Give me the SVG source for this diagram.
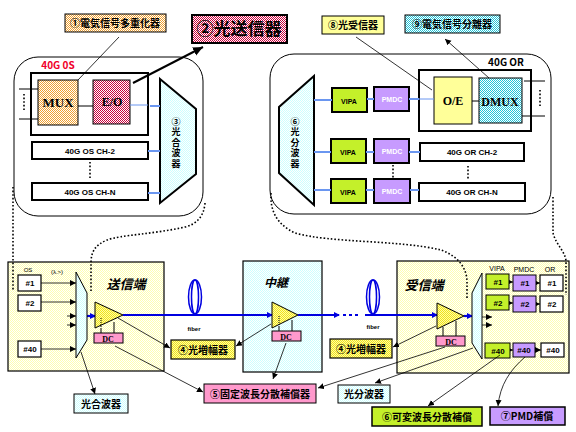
<svg xmlns="http://www.w3.org/2000/svg" width="576" height="432" viewBox="0 0 576 432">
<defs>
<pattern id="dO" width="2" height="2" patternUnits="userSpaceOnUse"><rect width="2" height="2" fill="#fff"/><rect width="1" height="1" fill="#f0a030"/><rect x="1" y="1" width="1" height="1" fill="#f0a030"/></pattern>
<pattern id="dR" width="2" height="2" patternUnits="userSpaceOnUse"><rect width="2" height="2" fill="#fff"/><rect width="1" height="1" fill="#c8003c"/><rect x="1" y="1" width="1" height="1" fill="#c8003c"/></pattern>
<pattern id="dC" width="2" height="2" patternUnits="userSpaceOnUse"><rect width="2" height="2" fill="#fff"/><rect width="1" height="1" fill="#ccffff"/><rect x="1" y="1" width="1" height="1" fill="#ccffff"/></pattern>
<pattern id="dT" width="2" height="2" patternUnits="userSpaceOnUse"><rect width="2" height="2" fill="#fff"/><rect width="1" height="1" fill="#22c4d8"/><rect x="1" y="1" width="1" height="1" fill="#22c4d8"/></pattern>
<pattern id="dY" width="2" height="2" patternUnits="userSpaceOnUse"><rect width="2" height="2" fill="#fff"/><rect width="1" height="1" fill="#ffffb0"/><rect x="1" y="1" width="1" height="1" fill="#ffffb0"/></pattern>
<pattern id="dS" width="2" height="2" patternUnits="userSpaceOnUse"><rect width="2" height="2" fill="#ffffa0"/><rect width="1" height="1" fill="#f0e020"/><rect x="1" y="1" width="1" height="1" fill="#f0e020"/></pattern>
<marker id="a" markerWidth="7" markerHeight="7" refX="6" refY="3" orient="auto" markerUnits="userSpaceOnUse"><path d="M0,0L6,3L0,6z" fill="#000"/></marker>
<marker id="ab" markerWidth="7" markerHeight="7" refX="5" refY="3" orient="auto" markerUnits="userSpaceOnUse"><path d="M0,0L6,3L0,6z" fill="#0000e0"/></marker>
<marker id="A" markerWidth="12" markerHeight="10" refX="10" refY="4.5" orient="auto" markerUnits="userSpaceOnUse"><path d="M0,0L10,4.5L0,9z" fill="#000"/></marker>
</defs>
<style>
text{font-family:"Noto Sans CJK JP","Liberation Sans",sans-serif;font-weight:700;text-anchor:middle;fill:#000}
.s{font-family:"Liberation Serif",serif}
.l{font-family:"Liberation Sans",sans-serif;font-size:8px}
.v{writing-mode:vertical-rl;font-size:9px;letter-spacing:1.5px}
.bx{stroke:#000;stroke-width:2;fill:#fff}
.th{stroke:#000;stroke-width:1;fill:none}
.ar{stroke:#000;stroke-width:.8;fill:none;marker-end:url(#a)}
.dot{stroke:#000;stroke-width:1.6;stroke-dasharray:1.6 2;fill:none}
.bl{stroke:#6a96f0;stroke-width:2;fill:none}
.bt{stroke:#6a96f0;stroke-width:1;fill:none}
.bb{stroke:#0000e0;stroke-width:2.2;fill:none}
.bm{marker-end:url(#ab)}
.pk{fill:#ff99cc;stroke:#000;stroke-width:1}
.g{fill:#c4f02a;stroke:#000;stroke-width:2}
.p{fill:#c79bff;stroke:#000;stroke-width:2}
.wb{fill:#fff;stroke:#000;stroke-width:1.2}
.lab{font-size:10px}
</style>

<g id="tx-station"><rect x="8" y="262" width="156" height="109" fill="url(#dY)" stroke="#000" stroke-width="1.2"/>
<text x="126" y="289" font-size="13" font-style="italic">送信端</text>
<text class="l" x="28" y="272" style="font-size:6px;font-weight:400">OS</text><text class="l" x="57" y="274" style="font-size:6px;font-weight:400">(λ.&gt;)</text></g>
<g id="relay-station"><rect x="243" y="261" width="79" height="111" fill="url(#dC)" stroke="#000" stroke-width="1.2"/>
<text x="276" y="287" font-size="12" font-style="italic">中継</text></g>
<g id="rx-station"><rect x="397" y="261" width="172" height="112" fill="url(#dY)" stroke="#000" stroke-width="1.2"/>
<text x="424" y="290" font-size="13" font-style="italic">受信端</text>
<text class="l" x="497" y="271" style="font-size:7px;font-weight:400">VIPA</text><text class="l" x="524" y="272" style="font-size:7px;font-weight:400">PMDC</text><text class="l" x="550" y="272" style="font-size:7px;font-weight:400">OR</text></g>

<g id="os-panel"><rect x="14" y="57" width="189" height="159" rx="24" fill="#fff" stroke="#000"/>
<text x="58" y="69" font-size="10" style="fill:#f0002a">40G 0S</text>
<rect class="bx" x="31" y="73" width="117" height="62"/>
<g id="mux"><rect x="38" y="80" width="40" height="45" fill="url(#dO)" stroke="#000"/><text class="s" x="58" y="107" font-size="13">MUX</text></g>
<g id="eo"><rect x="93" y="80" width="37" height="44" fill="url(#dR)" stroke="#000"/><text class="s" x="112" y="106" font-size="12">E/O</text></g>
<g id="os-ch2"><rect class="bx" x="32" y="142" width="116" height="17"/><text class="l" x="90" y="154">40G OS CH-2</text></g>
<g id="os-chn"><rect class="bx" x="32" y="183" width="116" height="17"/><text class="l" x="90" y="195">40G OS CH-N</text></g>
<g id="mux-opt"><path d="M160,79L196,109V174L160,203Z" fill="url(#dC)" stroke="#000" stroke-width="2"/>
<text class="v" x="176" y="143">③光合波器</text></g></g>

<g id="or-panel"><rect x="270" y="54" width="281" height="160" rx="24" fill="#fff" stroke="#000"/>
<text x="506" y="66" font-size="10">40G OR</text>
<rect class="bx" x="419" y="70" width="112" height="61"/>
<g id="oe"><rect x="434" y="77" width="38" height="47" fill="#ffff99" stroke="#000"/><text class="s" x="453" y="105" font-size="12">O/E</text></g>
<g id="dmux"><rect x="479" y="78" width="43" height="45" fill="url(#dT)" stroke="#000"/><text class="s" x="500" y="106" font-size="12">DMUX</text></g>
<g id="demux-opt"><path d="M314,76V205L279,173V107Z" fill="url(#dC)" stroke="#000" stroke-width="2"/>
<text class="v" x="295" y="143">⑥光分波器</text></g>
<g id="vipa-a"><rect class="g" x="332" y="88" width="35" height="24"/><text class="l" x="349" y="104" style="font-size:7px">VIPA</text></g>
<g id="pmdc-a"><rect class="p" x="374" y="87" width="35" height="24"/><text class="l" x="392" y="102" style="font-size:7px;fill:#fff">PMDC</text></g>
<g id="vipa-b"><rect class="g" x="331" y="139" width="35" height="24"/><text class="l" x="348" y="155" style="font-size:7px">VIPA</text></g>
<g id="pmdc-b"><rect class="p" x="374" y="139" width="35" height="24"/><text class="l" x="392" y="154" style="font-size:7px;fill:#fff">PMDC</text></g>
<g id="vipa-c"><rect class="g" x="331" y="179" width="35" height="24"/><text class="l" x="348" y="195" style="font-size:7px">VIPA</text></g>
<g id="pmdc-c"><rect class="p" x="374" y="179" width="36" height="24"/><text class="l" x="392" y="194" style="font-size:7px;fill:#fff">PMDC</text></g>
<g id="or-ch2"><rect class="bx" x="420" y="143" width="104" height="18"/><text class="l" x="472" y="155">40G OR CH-2</text></g>
<g id="or-chn"><rect class="bx" x="419" y="183" width="106" height="18"/><text class="l" x="472" y="195">40G OR CH-N</text></g></g>

<g id="connectors">
<path class="th" d="M19,89H38M19,119H38M78,106H93M472,101H479M524,81H545M522,116H545"/>
<path class="dot" d="M24,94V112M90,162V180M540,90V108M393,165V178M468,166V179"/>
<path class="bt" d="M130,105H148M419,99H434"/>
<path class="bl" d="M150,106H160M148,151H160M148,193H160M314,100H332M367,99H374M409,99H419M314,152H331M366,152H374M409,152H420M314,190H331M366,190H374M410,190H419"/>
<path class="ar" d="M78,80L119,37M432,90L356,37M489,78L445,39"/>
<path d="M133,83L203,47" stroke="#000" stroke-width="2" fill="none" marker-end="url(#A)"/>
<path class="dot" d="M13,187V291M205,203C204,216 197,224 185,227C155,234 120,235 107,240C95,245 91,252 91,263V293M271,193C270,210 276,224 295,233C330,243 400,240 441,250C458,256 467,268 467,282V298M553,197V233C556,245 566,252 566,262V295"/>
</g>

<g id="fiber-link">
<path class="bb bm" d="M87,316H95"/>
<path class="bb bm" d="M123,315H272"/>
<path class="bb bm" d="M298,315H339"/>
<path class="bb bm" d="M365,315H437"/>
<path class="bb bm" d="M464,316H472"/>
<path d="M343,315H361" stroke="#0000e0" stroke-width="2" stroke-dasharray="3 3"/>
<g fill="none" stroke="#0000e0" stroke-width="1.5"><ellipse cx="195" cy="297" rx="6.5" ry="17"/><ellipse cx="195" cy="297" rx="3.5" ry="17"/><ellipse cx="373" cy="297" rx="6.5" ry="17"/><ellipse cx="373" cy="297" rx="3.5" ry="17"/></g>
<text class="l" x="194" y="331" style="font-size:6px">fiber</text><text class="l" x="373" y="329" style="font-size:6px">fiber</text>
</g>

<g id="tx-internals">
<g id="tx1"><rect class="wb" x="18" y="275" width="23" height="16"/><text class="l" x="30" y="286">#1</text></g>
<g id="tx2"><rect class="wb" x="18" y="295" width="23" height="16"/><text class="l" x="30" y="306">#2</text></g>
<g id="tx40"><rect class="wb" x="18" y="341" width="23" height="16"/><text class="l" x="30" y="352">#40</text></g>
<path class="ar" d="M41,283H76"/><path class="ar" d="M41,302H76"/><path class="ar" d="M67,316H76"/><path class="ar" d="M67,325H76"/><path class="ar" d="M41,349H76"/>
<path d="M76,272L87,293V340L76,358Z" fill="url(#dC)" stroke="#000"/>
<g id="amp1"><path d="M95,302L123,315L95,328Z" fill="url(#dS)" stroke="#000"/></g>
<g id="dc1"><rect class="pk" x="94" y="333" width="29" height="10"/><text class="s" x="108" y="342" font-size="8">DC</text></g>
<path class="th" d="M114,322V333M101,328V333"/><path class="th" stroke-dasharray="1 1" d="M101,318V328"/>
</g>
<g id="relay-internals">
<g id="amp2"><path d="M272,302L298,315L272,328Z" fill="url(#dS)" stroke="#000"/></g>
<g id="dc2"><rect class="pk" x="272" y="331" width="29" height="10"/><text class="s" x="286" y="340" font-size="8">DC</text></g>
<path class="th" d="M292,320V331M279,326V331"/><path class="th" stroke-dasharray="1 1" d="M279,316V326"/>
</g>
<g id="rx-internals">
<g id="amp3"><path d="M437,303L464,316L437,329Z" fill="url(#dS)" stroke="#000"/></g>
<g id="dc3"><rect class="pk" x="436" y="336" width="29" height="10"/><text class="s" x="451" y="345" font-size="8">DC</text></g>
<path class="th" d="M456,321V336M443,327V336"/>
<path d="M482,273L472,293V343L482,359Z" fill="url(#dC)" stroke="#000"/>
<path class="ar" d="M482,317H492"/><path class="ar" d="M482,325H492"/><path class="ar" d="M509,282H513"/><path class="ar" d="M536,283H540"/><path class="ar" d="M509,303H513"/><path class="ar" d="M536,304H540"/><path class="ar" d="M510,350H513"/><path class="ar" d="M535,350H541"/>
<g id="r-v1"><rect class="g" style="stroke-width:1" x="486" y="274" width="23" height="15"/><text class="l" x="498" y="285">#1</text></g>
<g id="r-p1"><rect class="p" style="stroke-width:1" x="513" y="275" width="23" height="16"/><text class="l" x="525" y="286">#1</text></g>
<g id="r-o1"><rect class="wb" x="540" y="275" width="23" height="16"/><text class="l" x="552" y="286">#1</text></g>
<g id="r-v2"><rect class="g" style="stroke-width:1" x="486" y="295" width="23" height="15"/><text class="l" x="498" y="306">#2</text></g>
<g id="r-p2"><rect class="p" style="stroke-width:1" x="513" y="296" width="23" height="16"/><text class="l" x="525" y="307">#2</text></g>
<g id="r-o2"><rect class="wb" x="540" y="296" width="23" height="16"/><text class="l" x="552" y="307">#2</text></g>
<g id="r-v40"><rect class="g" style="stroke-width:1" x="485" y="343" width="25" height="15"/><text class="l" x="498" y="354">#40</text></g>
<g id="r-p40"><rect class="p" style="stroke-width:1" x="513" y="343" width="22" height="14"/><text class="l" x="524" y="353">#40</text></g>
<g id="r-o40"><rect class="wb" x="541" y="343" width="23" height="14"/><text class="l" x="553" y="353">#40</text></g>
</g>

<g id="callouts">
<path class="ar" d="M81,352L95,394"/><path class="ar" d="M118,318L170,348"/><path class="ar" d="M115,346L203,392"/><path class="ar" d="M271,324L236,346"/><path class="ar" d="M286,343L273,379"/><path class="ar" d="M436,326L393,347"/><path class="ar" d="M445,347L318,388"/><path class="ar" d="M473,348L375,383"/><path class="ar" d="M500,355L428,406"/><path class="ar" d="M525,357C510,370 500,385 498,406"/>
</g>

<g id="label-1"><rect x="65" y="14" width="101" height="18" fill="url(#dO)" stroke="#000"/><text class="lab" x="115" y="27">①電気信号多重化器</text></g>
<g id="label-2"><rect x="192" y="15" width="95" height="28" fill="url(#dR)" stroke="#000" stroke-width="2"/><text x="239" y="35" font-size="17">②光送信器</text></g>
<g id="label-8"><rect x="322" y="16" width="62" height="18" fill="#ffff99" stroke="#000"/><text class="lab" x="353" y="29">⑧光受信器</text></g>
<g id="label-9"><rect x="405" y="15" width="95" height="18" fill="url(#dT)" stroke="#000"/><text class="lab" x="452" y="28">⑨電気信号分離器</text></g>
<g id="label-amp-a"><rect x="171" y="340" width="64" height="19" fill="url(#dS)" stroke="#000" stroke-width="1.2"/><text class="lab" x="203" y="354">④光増幅器</text></g>
<g id="label-amp-b"><rect x="330" y="339" width="62" height="19" fill="url(#dS)" stroke="#000" stroke-width="1.2"/><text class="lab" x="361" y="353">④光増幅器</text></g>
<g id="label-fixed"><rect class="pk" x="204" y="384" width="112" height="19"/><text class="lab" x="260" y="398">⑤固定波長分散補償器</text></g>
<g id="label-muxopt"><rect x="74" y="394" width="54" height="19" fill="url(#dC)" stroke="#000"/><text class="lab" x="101" y="408">光合波器</text></g>
<g id="label-demuxopt"><rect x="338" y="385" width="52" height="18" fill="url(#dC)" stroke="#000"/><text class="lab" x="364" y="398">光分波器</text></g>
<g id="label-var"><rect x="372" y="407" width="110" height="19" fill="#c4f02a" stroke="#000" stroke-width="1.5"/><text class="lab" x="427" y="421">⑥可変波長分散補償</text></g>
<g id="label-pmd"><rect x="490" y="407" width="75" height="18" fill="#c79bff" stroke="#000" stroke-width="1.5"/><text class="lab" x="527" y="420">⑦PMD補償</text></g>
</svg>
